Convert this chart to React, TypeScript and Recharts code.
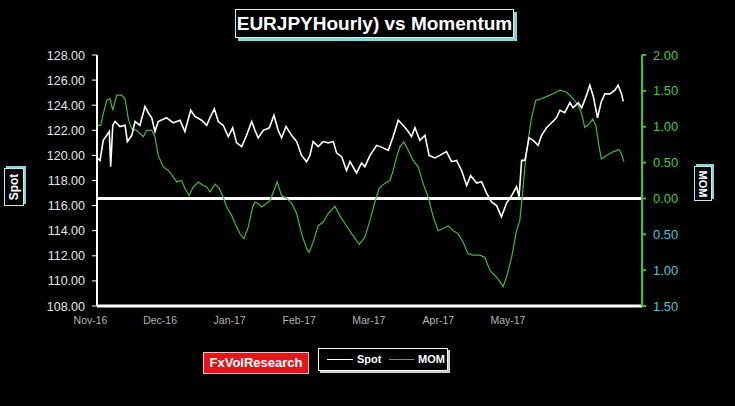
import React from 'react';
import { ComposedChart, Line, XAxis, YAxis, ReferenceLine } from 'recharts';

// x positions are trading-day indices from the start of the sample
const spotDays = [0,1.3,2.7,4.2,5.3,5.9,6.8,7.8,9.9,12.1,13.1,15.0,16.4,18.5,20.7,22.1,23.6,25.0,26.4,30.0,32.9,35.8,37.9,40.4,42.2,45.1,47.3,48.7,50.6,52.3,54.4,56.6,58.5,60.2,62.4,64.5,66.7,68.1,69.5,71.7,74.3,76.3,78.1,79.6,81.5,83.9,86.1,88.2,90.4,91.8,93.2,95.4,97.5,99.7,101.9,103.3,105.5,107.6,109.1,111.9,114.1,115.5,117.7,120.6,123.4,125.6,127.7,129.9,132.0,134.2,135.6,137.1,139.2,141.4,143.2,145.7,147.8,150.7,152.9,155.0,157.2,159.4,161.1,163.7,165.8,168.0,170.1,172.3,174.4,176.6,178.8,180.9,182.0,183.1,184.5,186.3,188.1,190.2,191.7,193.8,196.0,198.1,199.6,201.7,203.9,205.3,207.5,209.0,211.1,212.5,214.0,215.8,217.5,219.0,221.1,223.3,224.7,226.2,226.9];
const spotValues = [119.8,119.6,121.2,121.6,121.9,119.1,122.4,122.7,122.3,122.4,121.1,121.6,122.7,122.4,123.9,123.4,123.0,121.9,122.7,123.0,122.6,122.8,121.9,123.6,123.1,122.8,122.4,123.0,123.7,122.7,122.4,121.5,122.2,121.0,120.7,121.6,122.7,122.0,121.4,122.0,122.2,123.2,122.0,121.4,122.3,121.6,121.1,120.0,119.5,120.0,121.1,120.7,121.1,121.0,121.1,120.2,119.9,118.8,119.5,118.6,119.4,119.1,120.0,120.8,120.6,120.4,121.5,122.8,122.4,121.9,121.5,122.2,121.2,121.6,120.0,119.8,120.0,120.3,119.5,119.6,118.8,117.6,118.4,117.8,117.9,117.0,116.3,116.0,115.1,116.2,116.8,117.5,116.7,119.6,119.6,121.4,121.2,120.8,121.6,122.2,122.6,123.0,123.6,123.4,124.2,123.8,124.2,123.8,124.8,125.6,124.7,123.0,124.3,124.9,124.9,125.2,125.6,124.9,124.3];

const momDays = [0,1.6,2.7,4.2,5.6,6.8,8.5,10.6,12.1,13.5,15.0,17.1,20.0,21.4,23.6,25.0,26.4,28.6,30.7,32.9,34.4,36.5,37.9,39.7,41.5,43.7,45.8,47.3,48.7,50.9,52.7,54.4,55.9,58.1,59.5,61.6,63.4,65.2,67.1,68.1,69.5,71.0,73.1,74.6,76.3,77.7,79.6,81.8,83.9,86.1,88.2,90.4,91.5,93.2,95.4,97.5,99.7,102.6,104.7,106.9,109.8,113.1,115.5,117.7,119.8,121.7,124.1,126.3,127.7,129.2,130.6,132.3,134.2,136.3,138.5,140.6,142.8,145.0,147.1,149.3,151.4,153.6,155.7,157.9,160.0,162.2,165.1,167.2,169.4,172.3,174.0,175.1,176.6,178.8,180.9,182.3,183.5,184.5,185.9,187.4,189.2,190.9,193.8,196.7,199.6,202.5,205.3,207.5,209.0,210.3,212.2,213.7,215.1,216.5,217.5,219.7,222.5,225.1,226.2,227.2];
const momValues = [1.02,1.02,1.18,1.37,1.39,1.23,1.44,1.44,1.39,1.11,0.97,0.95,0.86,0.95,0.95,0.86,0.60,0.44,0.39,0.30,0.23,0.25,0.14,0.04,0.16,0.23,0.18,0.16,0.09,0.20,0.14,0.02,-0.12,-0.24,-0.35,-0.49,-0.56,-0.40,-0.12,-0.05,-0.07,-0.12,-0.07,-0.03,0.11,0.23,0.04,0.00,-0.07,-0.21,-0.49,-0.70,-0.75,-0.61,-0.38,-0.33,-0.21,-0.11,-0.24,-0.35,-0.49,-0.64,-0.54,-0.31,-0.05,0.14,0.21,0.25,0.39,0.58,0.72,0.79,0.67,0.53,0.44,0.21,0.02,-0.26,-0.45,-0.42,-0.38,-0.45,-0.49,-0.61,-0.77,-0.79,-0.79,-0.82,-1.00,-1.10,-1.17,-1.23,-1.10,-0.82,-0.45,-0.31,0.07,0.44,0.81,1.13,1.37,1.38,1.42,1.46,1.51,1.48,1.39,1.30,1.18,0.99,1.04,1.11,1.02,0.72,0.55,0.60,0.65,0.68,0.62,0.51];

const monthTicks = [0, 30, 60, 90, 120, 150, 180];
const monthLabels = ['Nov-16', 'Dec-16', 'Jan-17', 'Feb-17', 'Mar-17', 'Apr-17', 'May-17'];
const spotTicks = [108, 110, 112, 114, 116, 118, 120, 122, 124, 126, 128];
const momTicks = [-1.5, -1, -0.5, 0, 0.5, 1, 1.5, 2];

const spotData = spotDays.map((d, i) => ({ day: d, spot: spotValues[i] }));
const momData = momDays.map((d, i) => ({ day: d, mom: momValues[i] }));

const FONT = '"Liberation Sans", Arial, sans-serif';

const XTick = (props: any) => {
  const { x, y, payload } = props;
  const idx = monthTicks.indexOf(payload.value);
  return (
    <text x={x - 6.5} y={y + 10} textAnchor="middle" fill="#b4b4b4" fontSize={10.5} fontFamily={FONT}>
      {monthLabels[idx]}
    </text>
  );
};

const RightTick = (props: any) => {
  const { x, y, payload } = props;
  const v = payload.value as number;
  return (
    <text x={x} y={y + 4.5} textAnchor="start" fill={v < 0 ? '#46c8d8' : '#3ccc3c'} fontSize={13} fontFamily={FONT}>
      {Math.abs(v).toFixed(2)}
    </text>
  );
};

const LeftTick = (props: any) => {
  const { x, y, payload } = props;
  return (
    <text x={x} y={y + 4.5} textAnchor="end" fill="#e6e6e6" fontSize={12.5} fontFamily={FONT}>
      {(payload.value as number).toFixed(2)}
    </text>
  );
};

export default function App() {
  return (
    <div style={{ position: 'fixed', left: 0, top: 0, width: 735, height: 406, background: '#000', overflow: 'hidden', fontFamily: FONT }}>
      <ComposedChart width={735} height={406} margin={{ top: 55, right: 43, bottom: 70, left: 37 }}>
        <XAxis
          xAxisId="x"
          type="number"
          dataKey="day"
          domain={[0, 235]}
          ticks={monthTicks}
          tick={<XTick />}
          tickLine={false}
          axisLine={{ stroke: '#ffffff', strokeWidth: 3 }}
          height={30}
          allowDataOverflow
        />
        <YAxis
          yAxisId="l"
          orientation="left"
          domain={[108, 128]}
          ticks={spotTicks}
          width={60}
          tick={<LeftTick />}
          tickSize={5}
          tickMargin={7}
          stroke="#ffffff"
          axisLine={{ stroke: '#ffffff', strokeWidth: 2 }}
          tickLine={{ stroke: '#ffffff' }}
          allowDataOverflow
        />
        <YAxis
          yAxisId="r"
          orientation="right"
          domain={[-1.5, 2]}
          ticks={momTicks}
          width={50}
          tick={<RightTick />}
          tickSize={4}
          tickMargin={7}
          axisLine={{ stroke: '#2ecc2e', strokeWidth: 2 }}
          tickLine={{ stroke: '#2ecc2e', strokeWidth: 2 }}
          allowDataOverflow
        />
        <ReferenceLine xAxisId="x" yAxisId="r" y={0} stroke="#ffffff" strokeWidth={3} />
        <Line
          xAxisId="x"
          yAxisId="r"
          data={momData}
          dataKey="mom"
          type="linear"
          stroke="#3dba3d"
          strokeWidth={1.2}
          dot={false}
          isAnimationActive={false}
        />
        <Line
          xAxisId="x"
          yAxisId="l"
          data={spotData}
          dataKey="spot"
          type="linear"
          stroke="#ffffff"
          strokeWidth={1.6}
          dot={false}
          isAnimationActive={false}
        />
      </ComposedChart>

      <div style={{ position: 'absolute', left: 235, top: 9, width: 277, height: 27, border: '1px solid #c8f0f0', boxShadow: '3px 3px 0 #8ad4d4', background: '#000', color: '#fff', fontWeight: 'bold', fontSize: 19, lineHeight: '27px', textAlign: 'center', whiteSpace: 'nowrap' }}>
        EURJPYHourly) vs Momentum
      </div>

      <div style={{ position: 'absolute', left: 4, top: 168, width: 18, height: 36, border: '1px solid #bfeeee', boxShadow: '2px -2px 0 #8ad4d4', background: '#000' }}>
        <div style={{ position: 'absolute', left: '50%', top: '50%', transform: 'translate(-50%, -50%) rotate(-90deg)', color: '#fff', fontWeight: 'bold', fontSize: 12, whiteSpace: 'nowrap' }}>Spot</div>
      </div>

      <div style={{ position: 'absolute', left: 694, top: 166, width: 16, height: 33, border: '1px solid #bfeeee', boxShadow: '2px -2px 0 #8ad4d4', background: '#000' }}>
        <div style={{ position: 'absolute', left: '50%', top: '50%', transform: 'translate(-50%, -50%) rotate(90deg)', color: '#fff', fontWeight: 'bold', fontSize: 11, whiteSpace: 'nowrap' }}>MOM</div>
      </div>

      <div style={{ position: 'absolute', left: 203, top: 352, width: 104, height: 20, border: '1px solid #f4c0c0', background: '#e8141c', color: '#fff', fontWeight: 'bold', fontSize: 13, lineHeight: '20px', textAlign: 'center', whiteSpace: 'nowrap' }}>
        FxVolResearch
      </div>

      <div style={{ position: 'absolute', left: 318, top: 348, width: 128, height: 21, border: '1px solid #ffffff', boxShadow: '2px 2px 0 #cfcfcf', background: '#000', color: '#fff', fontWeight: 'bold', fontSize: 11 }}>
        <div style={{ position: 'absolute', left: 8, top: 10, width: 26, height: 1, background: '#fff' }} />
        <div style={{ position: 'absolute', left: 38, top: 3, lineHeight: '14px' }}>Spot</div>
        <div style={{ position: 'absolute', left: 70, top: 10, width: 25, height: 1, background: '#3dba3d' }} />
        <div style={{ position: 'absolute', left: 99, top: 3, lineHeight: '14px' }}>MOM</div>
      </div>
    </div>
  );
}
